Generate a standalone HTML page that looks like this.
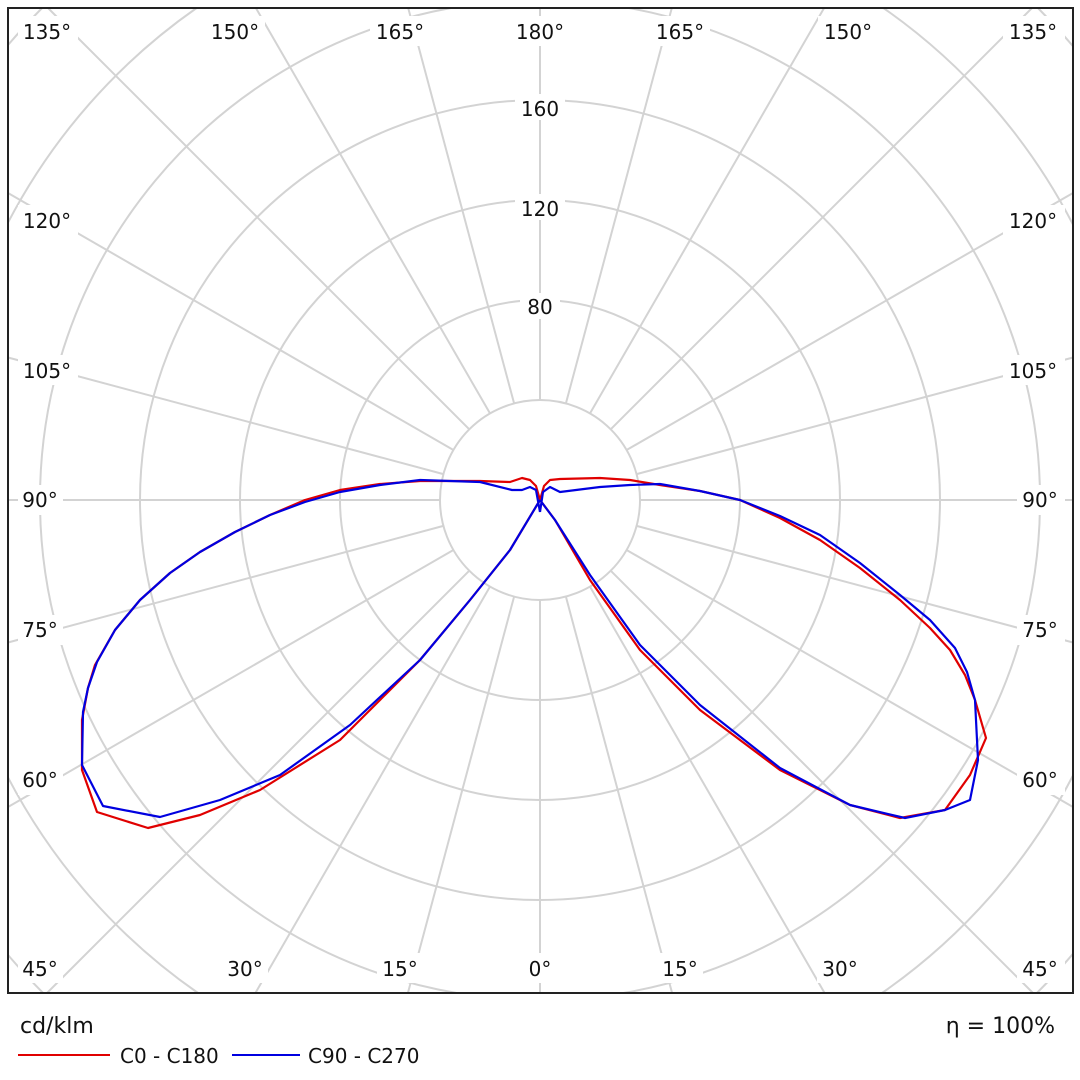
<!DOCTYPE html>
<html><head><meta charset="utf-8"><style>
html,body{margin:0;padding:0;background:#fff;width:1080px;height:1080px;overflow:hidden;}
svg{display:block;font-family:"DejaVu Sans","Liberation Sans",sans-serif;}
</style></head><body>
<svg width="1080" height="1080" viewBox="0 0 1080 1080">
<g stroke="#d3d3d3" stroke-width="2" fill="none">
<circle cx="540" cy="500" r="100"/><circle cx="540" cy="500" r="200"/><circle cx="540" cy="500" r="300"/><circle cx="540" cy="500" r="400"/>
<path d="M629.1,8 A500,500 0 0 1 623.4,993 M456.6,993 A500,500 0 0 1 450.9,8"/>
<path d="M8,222.6 A600,600 0 0 1 196.6,8 M883.4,8 A600,600 0 0 1 1073,224.5 M1073,775.5 A600,600 0 0 1 882,993 M198,993 A600,600 0 0 1 8,777.4"/>
<path d="M8,45 A700,700 0 0 1 42.1,8 M1037.9,8 A700,700 0 0 1 1073,46.2 M1073,953.8 A700,700 0 0 1 1036.9,993 M43.1,993 A700,700 0 0 1 8,955"/>
<path d="M540,600 L540,993
M565.9,596.6 L672.1,993 M514.1,596.6 L407.9,993
M590,586.6 L824.6,993 M490,586.6 L255.4,993
M610.7,570.7 L1033,993 M469.3,570.7 L47,993
M626.6,550 L1073,807 M453.4,550 L8,807
M636.6,525.9 L1073,642.5 M443.4,525.9 L8,642.5
M640,500 L1073,500 M440,500 L8,500
M636.6,474.1 L1073,357.5 M443.4,474.1 L8,357.5
M626.6,450 L1073,193 M453.4,450 L8,193
M610.7,429.3 L1032,8 M469.3,429.3 L48,8
M590,413.4 L824.1,8 M490,413.4 L255.9,8
M565.9,403.4 L671.8,8 M514.1,403.4 L408.2,8
M540,400 L540,8"/>
</g>
<g fill="#fff">
<rect x="515" y="94" width="50" height="26"/><rect x="515" y="194" width="50" height="26"/><rect x="520" y="293" width="40" height="26"/>
<rect x="18" y="16" width="60" height="30"/><rect x="205" y="16" width="60" height="30"/><rect x="370" y="16" width="60" height="30"/><rect x="510" y="16" width="60" height="30"/><rect x="650" y="16" width="60" height="30"/><rect x="818" y="16" width="60" height="30"/><rect x="1003" y="16" width="62" height="30"/>
<rect x="18" y="205" width="60" height="30"/><rect x="18" y="355" width="60" height="30"/><rect x="18" y="485" width="45" height="30"/><rect x="18" y="615" width="45" height="30"/><rect x="18" y="765" width="45" height="30"/><rect x="18" y="953" width="45" height="30"/>
<rect x="1003" y="205" width="62" height="30"/><rect x="1003" y="355" width="62" height="30"/><rect x="1017" y="485" width="48" height="30"/><rect x="1017" y="615" width="48" height="30"/><rect x="1017" y="765" width="48" height="30"/><rect x="1017" y="953" width="48" height="30"/>
<rect x="222" y="953" width="46" height="30"/><rect x="377" y="953" width="46" height="30"/><rect x="522" y="953" width="36" height="30"/><rect x="657" y="953" width="46" height="30"/><rect x="817" y="953" width="46" height="30"/>
</g>
<g font-size="20" fill="#111" text-anchor="middle">
<text x="540" y="116">160</text><text x="540" y="216">120</text><text x="540" y="314">80</text>
<text x="47" y="39">135°</text><text x="235" y="39">150°</text><text x="400" y="39">165°</text><text x="540" y="39">180°</text><text x="680" y="39">165°</text><text x="848" y="39">150°</text><text x="1033" y="39">135°</text>
<text x="47" y="228">120°</text><text x="47" y="378">105°</text><text x="40" y="507">90°</text><text x="40" y="637">75°</text><text x="40" y="787">60°</text><text x="40" y="976">45°</text>
<text x="1033" y="228">120°</text><text x="1033" y="378">105°</text><text x="1040" y="507">90°</text><text x="1040" y="637">75°</text><text x="1040" y="787">60°</text><text x="1040" y="976">45°</text>
<text x="245" y="976">30°</text><text x="400" y="976">15°</text><text x="540" y="976">0°</text><text x="680" y="976">15°</text><text x="840" y="976">30°</text>
</g>
<g fill="none" stroke-width="2.2" stroke-linejoin="round">
<polyline stroke="#e00000" points="540,500 510,550 470,600 420,660 340,740 260,790 200,815 148,828 97,812 82,770 82,720 88,688 95,665 115,630 140,600 170,573 200,552 235,532 270,515 305,500 340,490 380,484 420,481 480,481 510,482 522,478 530,480 536,486 540,500"/>
<polyline stroke="#e00000" points="540,500 544,486 550,480 560,479 600,478 630,480 660,485 700,491 740,500 780,518 820,540 860,568 900,600 930,628 950,650 965,675 975,700 986,738 970,775 945,810 900,818 850,805 780,770 700,710 640,650 590,580 555,520 540,500"/>
<polyline stroke="#0000e0" points="540,500 510,550 470,600 420,660 350,725 280,775 220,800 160,817 103,806 82,765 83,712 88,688 97,662 115,630 140,600 170,573 200,552 235,532 270,515 305,502 340,492 380,485 420,480 480,482 512,490 522,490 530,487 536,490 540,512"/>
<polyline stroke="#0000e0" points="540,512 543,492 550,487 560,492 600,487 630,485 660,484 700,491 740,500 780,516 820,535 860,563 900,595 930,620 955,648 967,672 975,700 978,760 970,800 945,810 905,818 850,805 780,768 700,705 640,645 590,575 555,520 540,500"/>
</g>
<rect x="8" y="8" width="1065" height="985" fill="none" stroke="#222" stroke-width="2"/>
<g font-size="22" fill="#111">
<text x="20" y="1033">cd/klm</text>
<text x="1055" y="1033" text-anchor="end">η = 100%</text>
<text x="120" y="1063" font-size="20">C0 - C180</text>
<text x="308" y="1063" font-size="20">C90 - C270</text>
</g>
<line x1="18" y1="1055" x2="110" y2="1055" stroke="#e00000" stroke-width="2"/>
<line x1="232" y1="1055" x2="300" y2="1055" stroke="#0000e0" stroke-width="2"/>
</svg>
</body></html>
